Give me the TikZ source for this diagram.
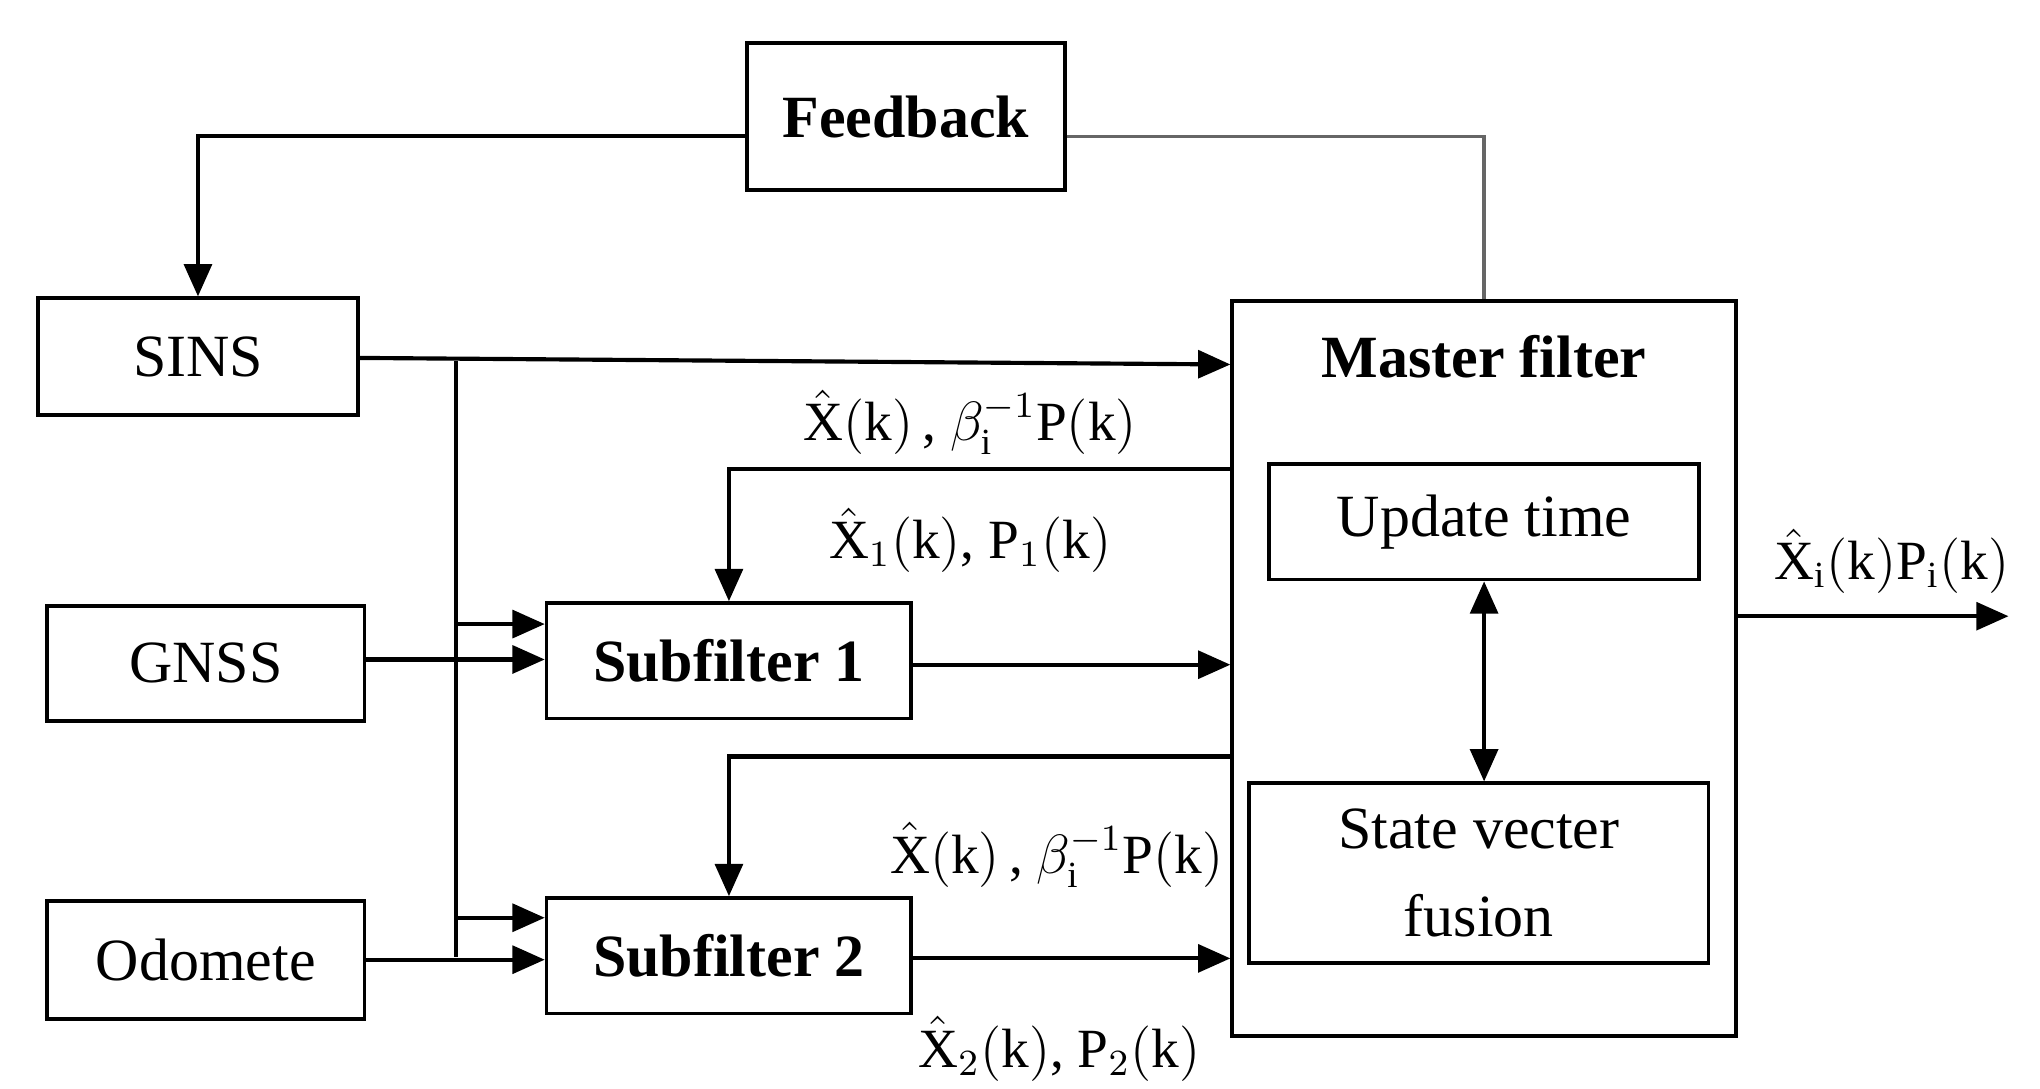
\documentclass[tikz,border=0pt]{standalone}
\usepackage{amsmath}
\usepackage{fontspec}
\setmainfont{Liberation Serif}
\usetikzlibrary{arrows.meta}

\begin{document}
\begin{tikzpicture}[x = 0.01cm, y = -0.01cm]
\tikzstyle{BoxStyle}=[draw, line width = 0.8pt, inner sep = 0pt,
                      font = \fontsize{13}{15}\selectfont]
\tikzstyle{LinkStyle}=[line width = 0.9pt, -{Triangle[length=7pt, width=6pt]}]
\tikzstyle{LabelStyle}=[font = \fontsize{12}{14}\selectfont, inner sep = 1pt]
\useasboundingbox (0,0) rectangle (1556,830);
\node[BoxStyle, minimum width = 2.42cm, minimum height = 1.12cm, font = \fontsize{13}{15}\selectfont\bfseries] (fb) at (691,89) {Feedback};
\node[BoxStyle, minimum width = 2.44cm, minimum height = 0.89cm] (sins) at (151,272) {SINS};
\node[BoxStyle, minimum width = 2.42cm, minimum height = 0.88cm] (gnss) at (157,506) {GNSS};
\node[BoxStyle, minimum width = 2.42cm, minimum height = 0.90cm] (odo) at (157,732) {Odomete};
\node[BoxStyle, minimum width = 2.78cm, minimum height = 0.88cm, font = \fontsize{13}{15}\selectfont\bfseries] (sf1) at (556,504) {Subfilter 1};
\node[BoxStyle, minimum width = 2.78cm, minimum height = 0.88cm, font = \fontsize{13}{15}\selectfont\bfseries] (sf2) at (556,729) {Subfilter 2};
\node[BoxStyle, minimum width = 3.84cm, minimum height = 5.60cm] (mf) at (1132,510) {};
\node[font = \fontsize{13}{15}\selectfont\bfseries] (mft) at (1132,272) {Master filter};
\node[BoxStyle, minimum width = 3.28cm, minimum height = 0.88cm] (ut) at (1132,398) {Update time};
\node[BoxStyle, minimum width = 3.50cm, minimum height = 1.37cm, align = center] (svf) at (1128,666) {State vecter\\[4pt]fusion};
\coordinate (bus1) at (348,275);
\coordinate (bus2) at (348,730);
% feedback loop
\draw[LinkStyle] (fb.west |- 0,104) -| (sins.north);
\draw[line width = 0.8pt, black!60] (fb.east |- 0,104) -| (mf.north);
% inputs
\draw[LinkStyle] (sins.east |- 0,273) -- (mf.west |- 0,278);
\draw[line width = 0.9pt] (bus1) -- (bus2);
\draw[LinkStyle] (348,476) -- (sf1.west |- 0,476);
\draw[LinkStyle] (gnss.east |- 0,503) -- (sf1.west |- 0,503);
\draw[LinkStyle] (348,700) -- (sf2.west |- 0,700);
\draw[LinkStyle] (odo.east |- 0,732) -- (sf2.west |- 0,732);
% master to subfilters
\draw[LinkStyle] (mf.west |- 0,358) -| (sf1.north);
\draw[LinkStyle] (mf.west |- 0,577) -| (sf2.north);
\draw[LinkStyle] (sf1.east |- 0,507) -- (mf.west |- 0,507);
\draw[LinkStyle] (sf2.east |- 0,731) -- (mf.west |- 0,731);
\draw[line width = 0.9pt, {Triangle[length=7pt, width=6pt]}-{Triangle[length=7pt, width=6pt]}] (ut.south) -- (ut.south |- svf.north);
% output
\coordinate (out) at (1532,470);
\draw[LinkStyle] (mf.east |- out) -- (out);
\node[LabelStyle] (lout) at (1443,428) {$\hat{\mathrm{X}}_{\mathrm{i}}(\mathrm{k})\mathrm{P}_{\mathrm{i}}(\mathrm{k})$};
\node[LabelStyle] (l1) at (740,322) {$\hat{\mathrm{X}}(\mathrm{k})$\,, $\beta_{\mathrm{i}}^{-1}\mathrm{P}(\mathrm{k})$};
\node[LabelStyle] (l2) at (740,412) {$\hat{\mathrm{X}}_1(\mathrm{k})$, $\mathrm{P}_1(\mathrm{k})$};
\node[LabelStyle] (l3) at (806,652) {$\hat{\mathrm{X}}(\mathrm{k})$\,, $\beta_{\mathrm{i}}^{-1}\mathrm{P}(\mathrm{k})$};
\node[LabelStyle] (l4) at (808,800) {$\hat{\mathrm{X}}_2(\mathrm{k})$, $\mathrm{P}_2(\mathrm{k})$};
\end{tikzpicture}
\end{document}
